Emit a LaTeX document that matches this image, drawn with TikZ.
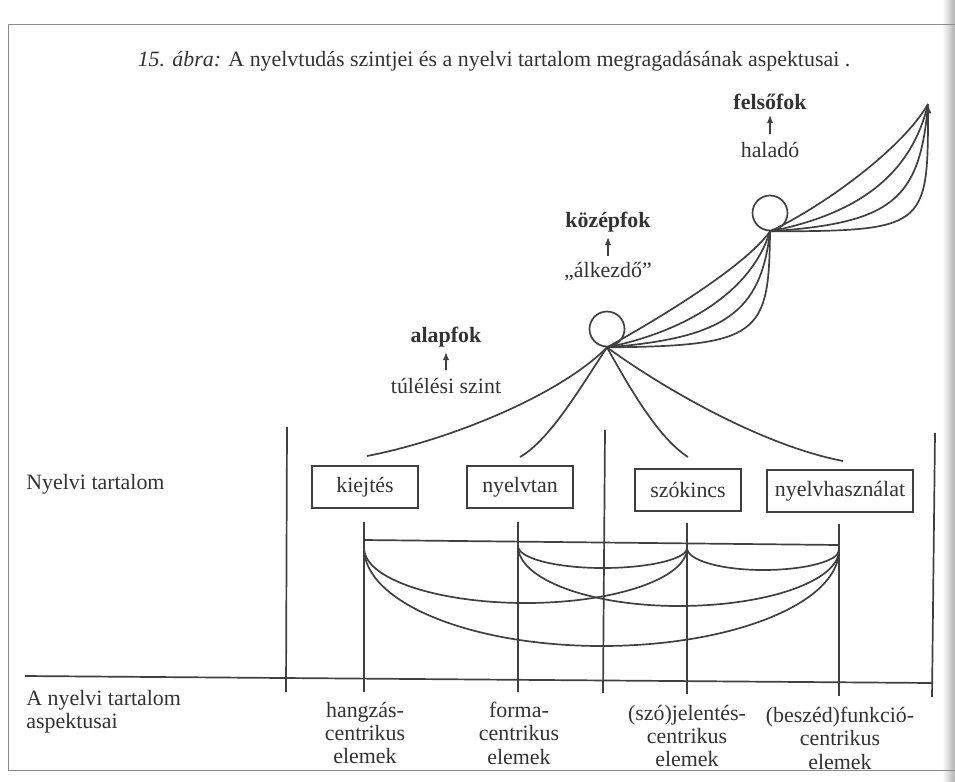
\documentclass[tikz,border=0pt]{standalone}
\usepackage{fontspec}
\setmainfont{Liberation Serif}
\usetikzlibrary{arrows.meta}
\begin{document}
\begin{tikzpicture}[x=0.03cm,y=-0.03cm,
  ink/.style={draw=black!75, line width=1.45pt},
  frameline/.style={draw=black!45, line width=0.6pt},
  txt/.style={text=black!80, font=\fontsize{18.7}{20}\selectfont, inner sep=1pt},
  bld/.style={text=black!80, font=\fontsize{18.7}{20}\selectfont\bfseries, inner sep=1pt},
  boxnode/.style={ink, text=black!80, font=\fontsize{18.7}{20}\selectfont, minimum height=1.26cm, inner sep=0pt},
  ring/.style={ink, circle, minimum size=1.05cm, inner sep=0pt},
  asp/.style={txt, align=center},
  uparrow/.style={draw=black!75, line width=1.1pt, -{Latex[length=7pt,width=5.5pt]}}
]
\useasboundingbox (0,0) rectangle (955,781);
\fill[white] (0,0) rectangle (955,781);
\shade[left color=white, right color=black!30] (942,0) rectangle (955,781);

% frame
\coordinate (f1) at (8,24); \coordinate (f2) at (955,24);
\coordinate (f3) at (8,770); \coordinate (f4) at (955,770);
\draw[frameline] (f2) -- (f1) -- (f3) -- (f4);

% title
\node[txt] (title) at (494,61) {\textit{15. ábra:} A nyelvtudás szintjei és a nyelvi tartalom megragadásának aspektusai .};

% level labels
\node[bld] (felso) at (770,102) {felsőfok};
\node[txt] (halado) at (770,150) {haladó};
\coordinate (fa1) at (770,134); \coordinate (fa2) at (770,115);
\draw[uparrow] (fa1) -- (fa2);

\node[bld] (kozep) at (608,222) {középfok};
\node[txt] (alkezdo) at (608,272) {„álkezdő”};
\coordinate (ka1) at (608,256); \coordinate (ka2) at (608,237);
\draw[uparrow] (ka1) -- (ka2);

\node[bld] (alap) at (446,337) {alapfok};
\node[txt] (tulelesi) at (446,386) {túlélési szint};
\coordinate (aa1) at (446,370); \coordinate (aa2) at (446,352);
\draw[uparrow] (aa1) -- (aa2);

% circles
\node[ring] (lc) at (607,329) {};
\node[ring] (uc) at (770,213) {};
\coordinate (tip) at (928,104);

% fan: lower circle -> upper circle
\draw[ink] (lc.south) .. controls (760,346) and (769,335) .. (uc.south);
\draw[ink] (lc.south) .. controls (724,338) and (761,313) .. (uc.south);
\draw[ink] (lc.south) .. controls (688,331) and (752,290) .. (uc.south);
\draw[ink] (lc.south) .. controls (651,323) and (744,268) .. (uc.south);

% fan: upper circle -> arrow tip
\draw[ink, -{Latex[length=8pt,width=6pt]}] (uc.south) .. controls (925,231) and (928,228) .. (tip);
\draw[ink] (uc.south) .. controls (891,223) and (920,201) .. (tip);
\draw[ink] (uc.south) .. controls (858,214) and (911,175) .. (tip);
\draw[ink] (uc.south) .. controls (824,206) and (903,148) .. (tip);

% fan: lower circle -> content areas
\coordinate (e1) at (367,456); \coordinate (e2) at (520,457);
\coordinate (e3) at (688,457); \coordinate (e4) at (843,461);
\draw[ink] (lc.south) .. controls (560,395) and (450,440) .. (e1);
\draw[ink] (lc.south) .. controls (582,385) and (550,440) .. (e2);
\draw[ink] (lc.south) .. controls (628,385) and (658,438) .. (e3);
\draw[ink] (lc.south) .. controls (660,386) and (760,445) .. (e4);

% left labels
\node[txt, anchor=west] (nyt) at (25,484) {Nyelvi tartalom};
\node[txt, anchor=west, align=left] (aspl) at (25,712) {A nyelvi tartalom\\aspektusai};

% boxes
\node[boxnode, minimum width=3.18cm] (kiejtes) at (365,487) {kiejtés};
\node[boxnode, minimum width=3.18cm] (nyelvtan) at (520,487) {nyelvtan};
\node[boxnode, minimum width=3.18cm] (szokincs) at (688,490) {szókincs};
\node[boxnode, minimum width=4.38cm] (nyhasz) at (840,491) {nyelvhasználat};

% dividers
\coordinate (d1t) at (287,427); \coordinate (d1b) at (286,692);
\coordinate (d2t) at (605,430); \coordinate (d2b) at (603,693);
\coordinate (d3t) at (935,433); \coordinate (d3b) at (932,697);
\draw[ink] (d1t) -- (d1b);
\draw[ink] (d2t) -- (d2b);
\draw[ink] (d3t) -- (d3b);

% baseline
\coordinate (bl1) at (25,676); \coordinate (bl2) at (932,683);
\draw[ink] (bl1) -- (bl2);

% aspect verticals
\coordinate (h1) at (364,522); \coordinate (h2) at (364,692);
\coordinate (g1) at (518,522); \coordinate (g2) at (518,692);
\coordinate (s1) at (687,523); \coordinate (s2) at (687,694);
\coordinate (b1) at (839,524); \coordinate (b2) at (839,696);
\draw[ink] (h1) -- (h2);
\draw[ink] (g1) -- (g2);
\draw[ink] (s1) -- (s2);
\draw[ink] (b1) -- (b2);

% top horizontal
\coordinate (hl1) at (364,540); \coordinate (hl2) at (839,545);
\draw[ink] (hl1) -- (hl2);

% arcs
\coordinate (H) at (364,548); \coordinate (F) at (518,546);
\coordinate (S) at (687,548); \coordinate (B) at (839,550);
\draw[ink] (F) .. controls (518,558.2) and (555.8,568) .. (602.5,568) .. controls (649.2,568) and (687,559) .. (S);
\draw[ink] (S) .. controls (687,560.2) and (721,570) .. (763,570) .. controls (805,570) and (839,561) .. (B);
\draw[ink] (H) .. controls (364,578.4) and (436.3,603) .. (525.5,603) .. controls (614.7,603) and (687,578.4) .. (S);
\draw[ink] (F) .. controls (518,579.1) and (589.9,606) .. (678.5,606) .. controls (767.1,606) and (839,580.9) .. (B);
\draw[ink] (H) .. controls (364,602.1) and (470.3,646) .. (601.5,646) .. controls (732.7,646) and (839,603) .. (B);

% aspect labels
\node[asp] (la) at (365,733) {hangzás-\\centrikus\\elemek};
\node[asp] (lb) at (519,733) {forma-\\centrikus\\elemek};
\node[asp] (lcx) at (687,736) {(szó)jelentés-\\centrikus\\elemek};
\node[asp] (ld) at (840,738) {(beszéd)funkció-\\centrikus\\elemek};
\end{tikzpicture}
\end{document}
